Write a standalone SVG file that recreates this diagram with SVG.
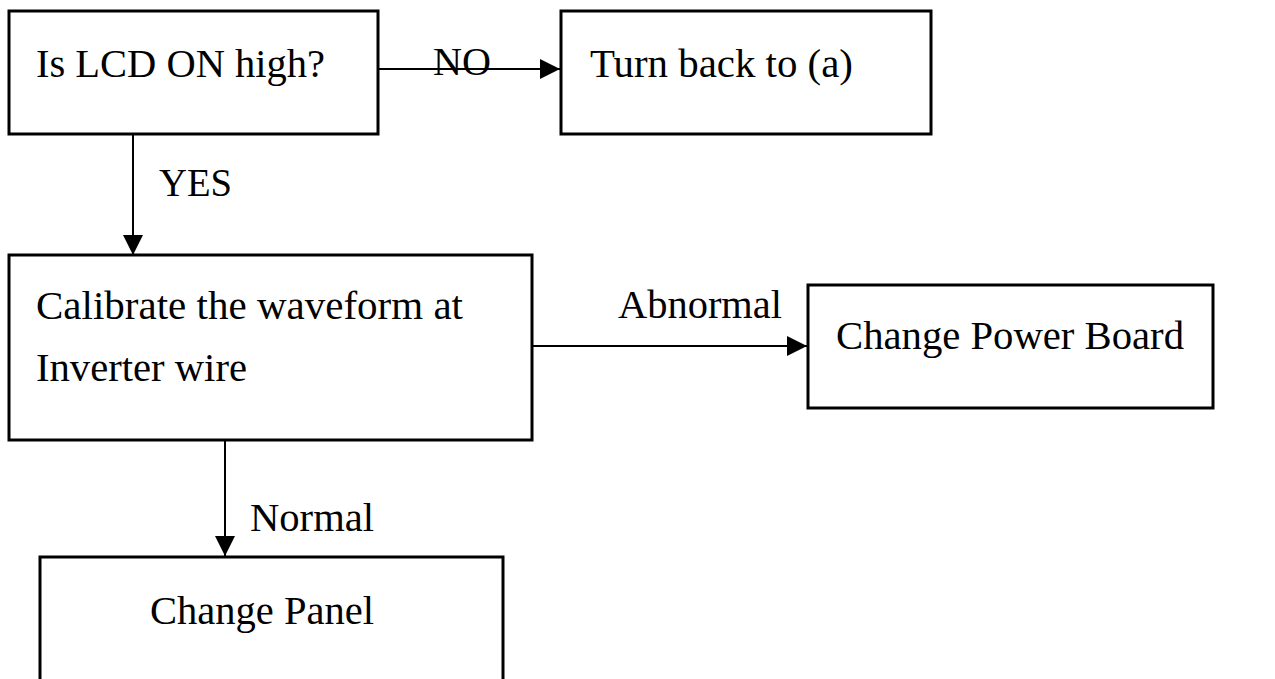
<svg xmlns="http://www.w3.org/2000/svg" width="1275" height="679" viewBox="0 0 1275 679">
  <style>
    .box { fill: #ffffff; stroke: #000000; stroke-width: 3; }
    .lbl { font-family: "Liberation Serif", "Times New Roman", serif; font-size: 41px; fill: #000000; }
    .edge { fill: none; stroke: #000000; stroke-width: 2; }
  </style>
  <defs>
    <marker id="arrow" markerUnits="userSpaceOnUse" markerWidth="20" markerHeight="20" viewBox="0 0 20 20" refX="20" refY="10" orient="auto">
      <path d="M0,0 L20,10 L0,20 Z" fill="#000000"/>
    </marker>
  </defs>
  <rect width="1275" height="679" fill="#ffffff"/>

  <!-- connectors -->
  <g id="connectors">
    <line class="edge" x1="378" y1="69" x2="560" y2="69" marker-end="url(#arrow)"/>
    <line class="edge" x1="133" y1="134" x2="133" y2="255" marker-end="url(#arrow)"/>
    <line class="edge" x1="532" y1="346" x2="807" y2="346" marker-end="url(#arrow)"/>
    <line class="edge" x1="225" y1="436" x2="225" y2="556" marker-end="url(#arrow)"/>
  </g>

  <g id="lcd-check">
    <rect class="box" x="9" y="11" width="369" height="123"/>
    <text class="lbl" x="36" y="77" textLength="289" lengthAdjust="spacingAndGlyphs">Is LCD ON high?</text>
  </g>

  <g id="turn-back">
    <rect class="box" x="561" y="11" width="370" height="123"/>
    <text class="lbl" x="590" y="77" textLength="263" lengthAdjust="spacingAndGlyphs">Turn back to (a)</text>
  </g>

  <g id="calibrate">
    <rect class="box" x="9" y="255" width="523" height="185"/>
    <text class="lbl" x="36" y="319" textLength="427" lengthAdjust="spacingAndGlyphs">Calibrate the waveform at</text>
    <text class="lbl" x="36" y="381" textLength="211" lengthAdjust="spacingAndGlyphs">Inverter wire</text>
  </g>

  <g id="power-board">
    <rect class="box" x="808" y="285" width="405" height="123"/>
    <text class="lbl" x="836" y="349" textLength="348" lengthAdjust="spacingAndGlyphs">Change Power Board</text>
  </g>

  <g id="panel">
    <rect class="box" x="40" y="557" width="463" height="140"/>
    <text class="lbl" x="150" y="624" textLength="224" lengthAdjust="spacingAndGlyphs">Change Panel</text>
  </g>

  <!-- connector labels -->
  <g id="edge-labels">
    <text class="lbl" x="433" y="75" textLength="58" lengthAdjust="spacingAndGlyphs">NO</text>
    <text class="lbl" x="159" y="196" textLength="73" lengthAdjust="spacingAndGlyphs">YES</text>
    <text class="lbl" x="618" y="318" textLength="164" lengthAdjust="spacingAndGlyphs">Abnormal</text>
    <text class="lbl" x="250" y="531" textLength="124" lengthAdjust="spacingAndGlyphs">Normal</text>
  </g>
</svg>
